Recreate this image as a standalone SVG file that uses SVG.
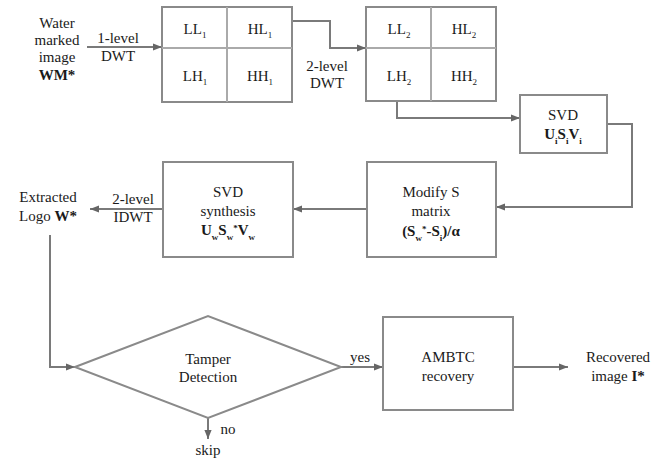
<svg xmlns="http://www.w3.org/2000/svg" width="660" height="459" viewBox="0 0 660 459">
<defs>
<style>
text{font-family:"Liberation Serif","Times New Roman",serif;font-size:15px;fill:#1a1a1a;text-anchor:middle}
.b{font-weight:bold}
.s{font-size:9px}
.box{fill:#fff;stroke:#8a8a8a;stroke-width:2}
.ln{fill:none;stroke:#7a7a7a;stroke-width:2}
.grid{fill:none;stroke:#aaa;stroke-width:2}
</style>
<marker id="ar" viewBox="0 0 10 10" refX="10" refY="5" markerWidth="9" markerHeight="9" markerUnits="userSpaceOnUse" orient="auto"><path d="M0,1 L10,5 L0,9 z" fill="#666"/></marker>
</defs>
<rect width="660" height="459" fill="#fff"/>
<g id="connectors">
<path class="ln" d="M87,47 H162" marker-end="url(#ar)"/>
<path class="ln" d="M292,21 H330 V48 H366" marker-end="url(#ar)"/>
<path class="ln" d="M397,101 V118 H520" marker-end="url(#ar)"/>
<path class="ln" d="M607,124 H632 V207 H496" marker-end="url(#ar)"/>
<path class="ln" d="M367,209 H293" marker-end="url(#ar)"/>
<path class="ln" d="M163,209 H90" marker-end="url(#ar)"/>
<path class="ln" d="M50,235 V367 H75" marker-end="url(#ar)"/>
<path class="ln" d="M208,418 V439" marker-end="url(#ar)"/>
<path class="ln" d="M341,367 H383" marker-end="url(#ar)"/>
<path class="ln" d="M513,367 H568" marker-end="url(#ar)"/>
</g>
<g id="input">
<text x="57" y="28">Water</text>
<text x="57" y="45">marked</text>
<text x="57" y="62">image</text>
<text x="57" y="80" class="b">WM*</text>
<text x="118" y="43">1-level</text>
<text x="118" y="61">DWT</text>
</g>
<g id="dwt1">
<rect class="box" x="162" y="7" width="130" height="95"/>
<path class="grid" d="M227,7 V102 M162,48 H292"/>
<text x="195" y="34">LL<tspan class="s" dy="4">1</tspan></text>
<text x="260" y="34">HL<tspan class="s" dy="4">1</tspan></text>
<text x="195" y="81">LH<tspan class="s" dy="4">1</tspan></text>
<text x="260" y="81">HH<tspan class="s" dy="4">1</tspan></text>
</g>
<text x="327" y="71">2-level</text>
<text x="327" y="88">DWT</text>
<g id="dwt2">
<rect class="box" x="366" y="7" width="130" height="94"/>
<path class="grid" d="M431,7 V101 M366,48 H496"/>
<text x="399" y="34">LL<tspan class="s" dy="4">2</tspan></text>
<text x="464" y="34">HL<tspan class="s" dy="4">2</tspan></text>
<text x="399" y="81">LH<tspan class="s" dy="4">2</tspan></text>
<text x="464" y="81">HH<tspan class="s" dy="4">2</tspan></text>
</g>
<g id="svd">
<rect class="box" x="520" y="95" width="87" height="58"/>
<text x="563" y="120">SVD</text>
<text x="563" y="139" class="b">U<tspan class="s" dy="5">i</tspan><tspan dy="-5">S</tspan><tspan class="s" dy="5">i</tspan><tspan dy="-5">V</tspan><tspan class="s" dy="5">i</tspan></text>
</g>
<g id="modify">
<rect class="box" x="367" y="162" width="129" height="95"/>
<text x="431" y="197">Modify S</text>
<text x="431" y="216">matrix</text>
<text x="431" y="236" class="b">(S<tspan class="s" dy="5">w</tspan><tspan class="s" dy="-9">*</tspan><tspan dy="4">-S</tspan><tspan class="s" dy="5">i</tspan><tspan dy="-5">)/α</tspan></text>
</g>
<g id="synthesis">
<rect class="box" x="163" y="162" width="130" height="95"/>
<text x="228" y="197">SVD</text>
<text x="228" y="216">synthesis</text>
<text x="228" y="235" class="b">U<tspan class="s" dy="5">w</tspan><tspan dy="-5">S</tspan><tspan class="s" dy="5">w</tspan><tspan class="s" dy="-9">*</tspan><tspan dy="4">V</tspan><tspan class="s" dy="5">w</tspan></text>
</g>
<text x="133" y="204">2-level</text>
<text x="133" y="222">IDWT</text>
<g id="logo">
<text x="48" y="202">Extracted</text>
<text x="48" y="221">Logo <tspan class="b">W*</tspan></text>
</g>
<g id="tamper">
<polygon class="box" points="75,367 208,316 341,367 208,418"/>
<text x="208" y="364">Tamper</text>
<text x="208" y="382">Detection</text>
</g>
<text x="360" y="362">yes</text>
<text x="228" y="434">no</text>
<text x="208" y="455">skip</text>
<g id="ambtc">
<rect class="box" x="383" y="317" width="130" height="93"/>
<text x="448" y="362">AMBTC</text>
<text x="448" y="381">recovery</text>
</g>
<g id="recovered">
<text x="618" y="362">Recovered</text>
<text x="618" y="381">image <tspan class="b">I*</tspan></text>
</g>
</svg>
